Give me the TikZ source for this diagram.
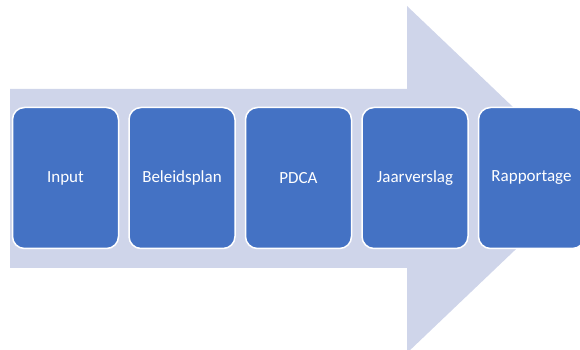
\documentclass[tikz,border=0pt]{standalone}
\usepackage{fontspec}
\setmainfont{Carlito}
\usetikzlibrary{positioning}
\definecolor{pijl}{HTML}{CFD5EA}
\definecolor{blok}{HTML}{4472C4}

\begin{document}
\begin{tikzpicture}[x=1pt,y=1pt,
  stap/.style={draw=white,line width=1.5pt,fill=blok,rounded corners=12pt,
    minimum width=106pt,minimum height=141pt,text=white,
    font=\fontsize{17}{20}\selectfont},
  node distance=9pt]
\useasboundingbox (0,0) rectangle (580,350);
\clip (0,0) rectangle (580,350);
% grote pijl op de achtergrond
\fill[pijl] (10,82) -- (10,261) -- (407,261) -- (407,344) -- (589,170.5)
  -- (407,-3) -- (407,82) -- cycle;
% de vijf stappen
\node[stap] (input) at (65.5,172) {Input};
\node[stap,right=of input] (beleid) {Beleidsplan};
\node[stap,right=of beleid] (pdca) {PDCA};
\node[stap,right=of pdca] (jaar) {Jaarverslag};
\node[stap,right=of jaar] (rapport) {Rapportage};
\end{tikzpicture}
\end{document}
